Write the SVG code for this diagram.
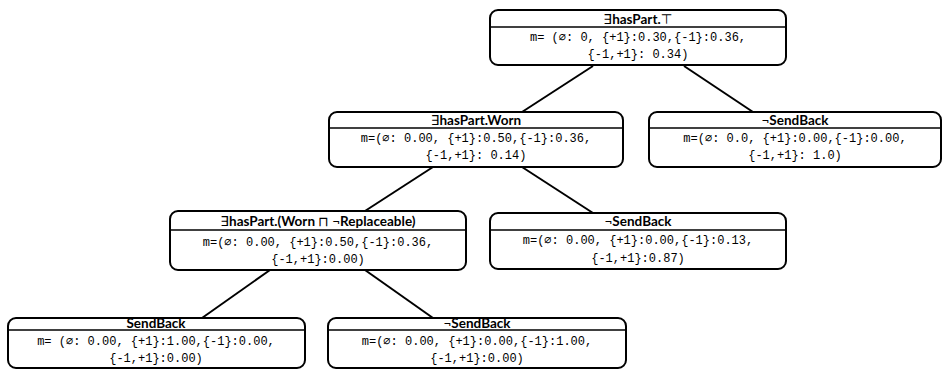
<svg xmlns="http://www.w3.org/2000/svg" width="943" height="370" viewBox="0 0 943 370">
<style>
.box{fill:#fff;stroke:#000;stroke-width:2}
.div{stroke:#000;stroke-width:1.6}
.edge{stroke:#000;stroke-width:2;fill:none}
.t{font-family:Lato,"DejaVu Sans",sans-serif;font-size:13.5px;font-weight:bold;text-anchor:middle;fill:#000}
.s{font-weight:normal}
.m{font-family:"Liberation Mono","DejaVu Sans Mono",monospace;font-size:12px;text-anchor:middle;fill:#000}
</style>
<g id="connectors">
<line class="edge" x1="593" y1="66" x2="522" y2="112"/>
<line class="edge" x1="684" y1="66" x2="753" y2="112"/>
<line class="edge" x1="433" y1="167" x2="365" y2="211"/>
<line class="edge" x1="522" y1="167" x2="593" y2="213"/>
<line class="edge" x1="270" y1="270" x2="202" y2="318"/>
<line class="edge" x1="365" y1="270" x2="433" y2="318"/>
</g>
<g id="root">
<rect class="box" x="490" y="10" width="296" height="55" rx="8"/>
<line class="div" x1="490" y1="27" x2="786" y2="27"/>
<text class="t" x="638" y="24"><tspan class="s">∃</tspan>hasPart.<tspan class="s">⊤</tspan></text>
<text class="m" x="638" y="41">m= (∅: 0, {+1}:0.30,{-1}:0.36,</text>
<text class="m" x="638" y="58">{-1,+1}: 0.34)</text>
</g>
<g id="worn">
<rect class="box" x="329" y="112" width="294" height="55" rx="8"/>
<line class="div" x1="329" y1="128" x2="623" y2="128"/>
<text class="t" x="476" y="125"><tspan class="s">∃</tspan>hasPart.Worn</text>
<text class="m" x="476" y="142">m=(∅: 0.00, {+1}:0.50,{-1}:0.36,</text>
<text class="m" x="476" y="159">{-1,+1}: 0.14)</text>
</g>
<g id="sendback1">
<rect class="box" x="649" y="112" width="292" height="55" rx="8"/>
<line class="div" x1="649" y1="128" x2="941" y2="128"/>
<text class="t" x="795" y="125"><tspan class="s">¬</tspan>SendBack</text>
<text class="m" x="795" y="142">m=(∅: 0.0, {+1}:0.00,{-1}:0.00,</text>
<text class="m" x="795" y="159">{-1,+1}: 1.0)</text>
</g>
<g id="wornNotReplaceable">
<rect class="box" x="170" y="211" width="296" height="59" rx="8"/>
<line class="div" x1="170" y1="230" x2="466" y2="230"/>
<text class="t" x="318" y="226"><tspan class="s">∃</tspan>hasPart.(Worn <tspan class="s">⊓ ¬</tspan>Replaceable)</text>
<text class="m" x="318" y="246">m=(∅: 0.00, {+1}:0.50,{-1}:0.36,</text>
<text class="m" x="318" y="263">{-1,+1}:0.00)</text>
</g>
<g id="sendback2">
<rect class="box" x="490" y="213" width="296" height="56" rx="8"/>
<line class="div" x1="490" y1="230" x2="786" y2="230"/>
<text class="t" x="638" y="226"><tspan class="s">¬</tspan>SendBack</text>
<text class="m" x="638" y="244">m=(∅: 0.00, {+1}:0.00,{-1}:0.13,</text>
<text class="m" x="638" y="262">{-1,+1}:0.87)</text>
</g>
<g id="sendback3">
<rect class="box" x="8" y="318" width="297" height="50" rx="8"/>
<line class="div" x1="8" y1="330" x2="305" y2="330"/>
<text class="t" x="156" y="328">SendBack</text>
<text class="m" x="156" y="345">m= (∅: 0.00, {+1}:1.00,{-1}:0.00,</text>
<text class="m" x="156" y="362">{-1,+1}:0.00)</text>
</g>
<g id="sendback4">
<rect class="box" x="328" y="318" width="298" height="50" rx="8"/>
<line class="div" x1="328" y1="330" x2="626" y2="330"/>
<text class="t" x="477" y="328"><tspan class="s">¬</tspan>SendBack</text>
<text class="m" x="477" y="345">m=(∅: 0.00, {+1}:0.00,{-1}:1.00,</text>
<text class="m" x="477" y="362">{-1,+1}:0.00)</text>
</g>
</svg>
